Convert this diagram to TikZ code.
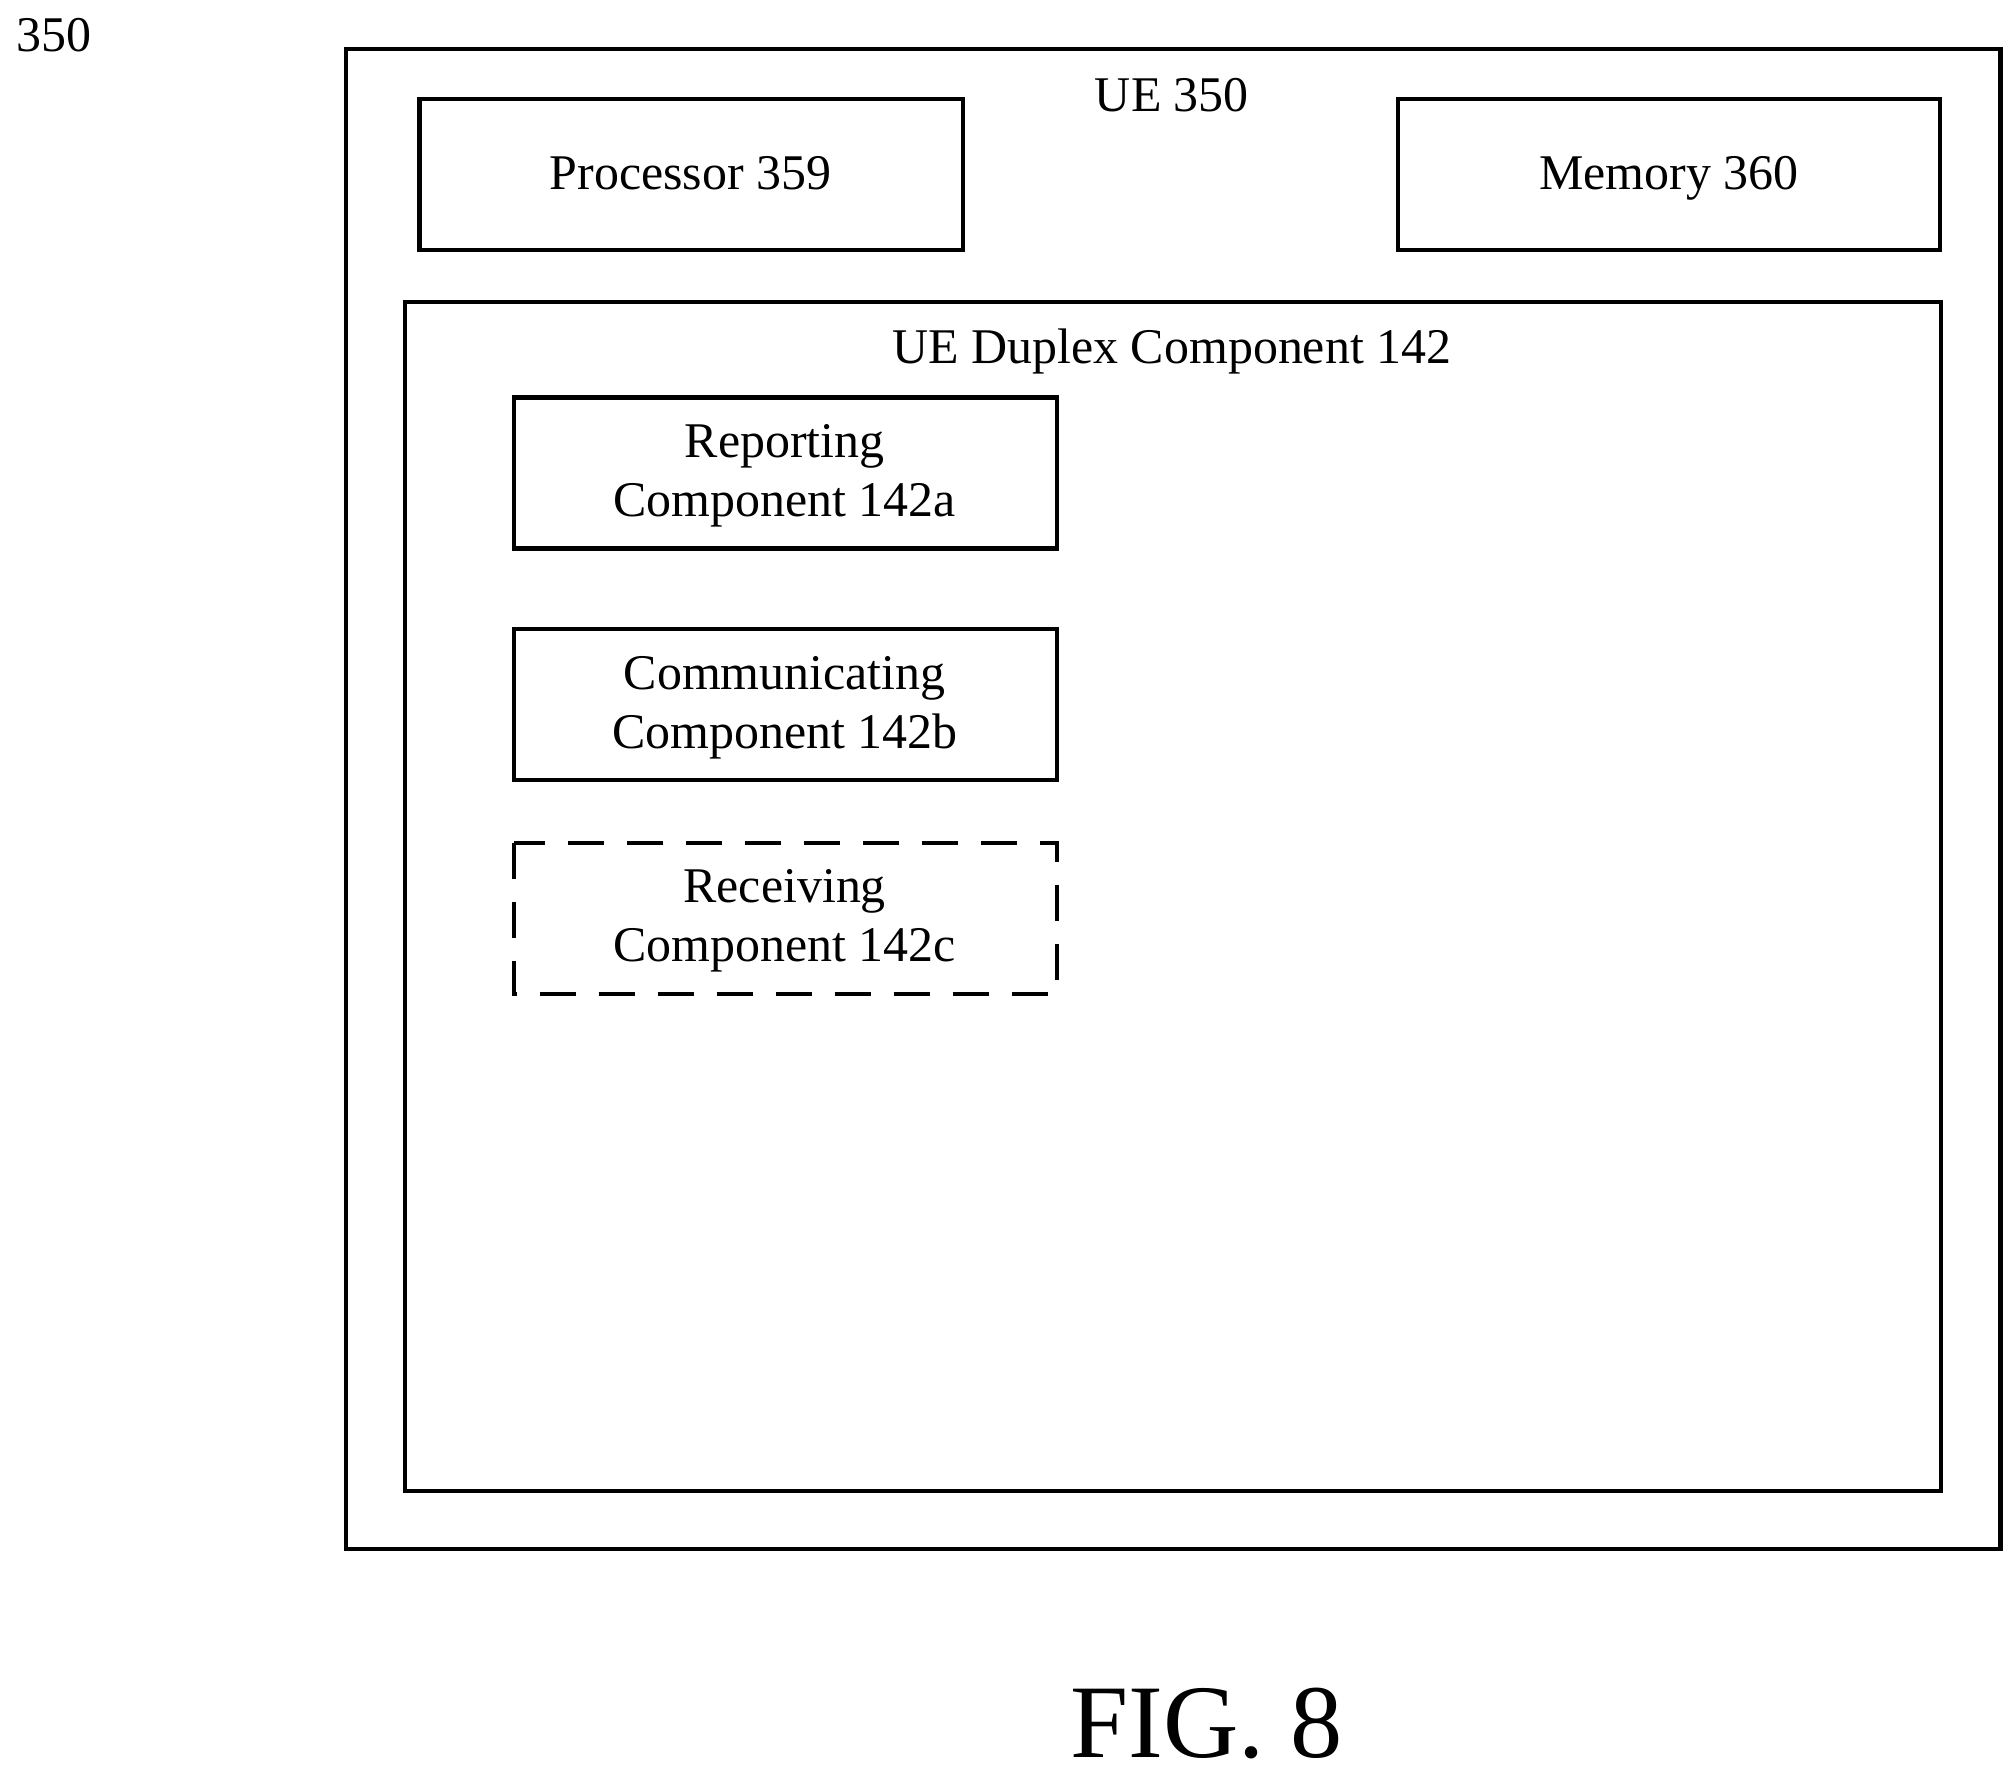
\documentclass[tikz,border=0pt]{standalone}
\usepackage{fontspec}
\setmainfont{Liberation Serif}
\begin{document}
\begin{tikzpicture}[x=0.01cm,y=-0.01cm,
  box/.style={draw,line width=0.9pt},
  lbl/.style={font=\fontsize{11}{13}\selectfont,align=center,inner sep=0pt,anchor=base}]
\useasboundingbox (0,0) rectangle (1562,1375);
\node[lbl] (n350) at (42,40) {350};
\draw[box] (268,38) rectangle (1550,1200);
\node[lbl] (ue) at (908,86) {UE 350};
\draw[box] (325,77) rectangle (746,194);
\node[lbl] (proc) at (535,147) {Processor 359};
\draw[box] (1083,77) rectangle (1503,194);
\node[lbl] (mem) at (1293,147) {Memory 360};
\draw[box] (314,234) rectangle (1504,1155);
\node[lbl] (dup) at (908,282) {UE Duplex Component 142};
\draw[box] (398,308) rectangle (819,425);
\node[lbl] (rep) at (608,400) {Reporting\\Component 142a};
\draw[box] (398,487) rectangle (819,604);
\node[lbl] (com) at (608,580) {Communicating\\Component 142b};
\draw[box,dash pattern=on 8pt off 5pt] (398,653) rectangle (819,770);
\node[lbl] (rec) at (608,745) {Receiving\\Component 142c};
\node[font=\fontsize{23}{28}\selectfont,inner sep=0pt,anchor=base] (fig) at (935,1362) {FIG. 8};
\end{tikzpicture}
\end{document}
